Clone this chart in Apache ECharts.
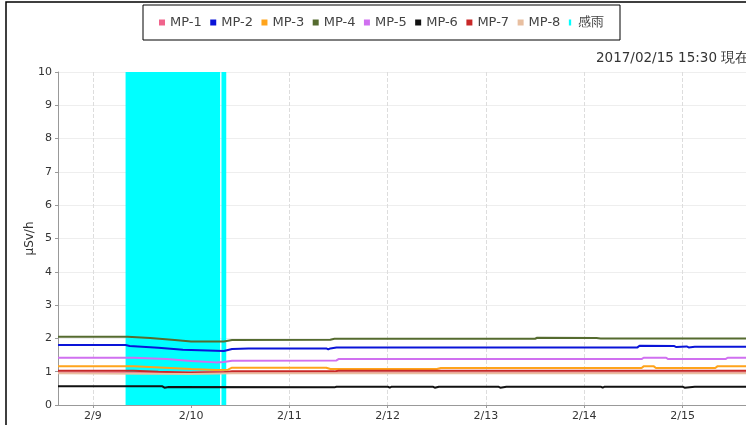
<!DOCTYPE html>
<html>
<head>
<meta charset="utf-8">
<script src="https://cdn.jsdelivr.net/npm/echarts@6/dist/echarts.min.js"></script>
<style>
  html, body { margin: 0; padding: 0; background: #fff; }
  #main { width: 746px; height: 425px; }
</style>
</head>
<body>
<div id="main"></div>
<script>
// 線量データ (μSv/h)
var names = ['MP-1', 'MP-2', 'MP-3', 'MP-4', 'MP-5', 'MP-6', 'MP-7', 'MP-8'];
var colors = ['#f0648c', '#0a14d8', '#ffa41c', '#556b2f', '#d070f0', '#111111', '#c82828', '#e8bfa0'];
var rainColor = '#00ffff';

var mp1 = [['2017-02-08 15:30', 0.97], ['2017-02-09 12:00', 0.97], ['2017-02-10 00:00', 0.98], ['2017-02-10 08:00', 0.99], ['2017-02-10 10:00', 0.96], ['2017-02-15 15:30', 0.97]];
var mp2 = [['2017-02-08 15:30', 1.80], ['2017-02-09 08:00', 1.80], ['2017-02-09 09:00', 1.77], ['2017-02-09 16:00', 1.72], ['2017-02-09 22:00', 1.66], ['2017-02-10 06:00', 1.63], ['2017-02-10 08:00', 1.62], ['2017-02-10 10:00', 1.68], ['2017-02-10 14:00', 1.70], ['2017-02-11 09:00', 1.70], ['2017-02-11 09:30', 1.67], ['2017-02-11 10:00', 1.70], ['2017-02-11 11:30', 1.73], ['2017-02-13 17:00', 1.73], ['2017-02-13 17:20', 1.76], ['2017-02-13 17:40', 1.73], ['2017-02-14 13:00', 1.73], ['2017-02-14 13:30', 1.78], ['2017-02-14 22:00', 1.77], ['2017-02-14 22:30', 1.74], ['2017-02-15 01:00', 1.76], ['2017-02-15 01:30', 1.73], ['2017-02-15 03:00', 1.75], ['2017-02-15 15:30', 1.75]];
var mp3 = [['2017-02-08 15:30', 1.16], ['2017-02-09 10:00', 1.16], ['2017-02-10 00:00', 1.08], ['2017-02-10 06:00', 1.05], ['2017-02-10 09:00', 1.06], ['2017-02-10 10:00', 1.12], ['2017-02-11 09:00', 1.12], ['2017-02-11 10:00', 1.08], ['2017-02-12 12:00', 1.08], ['2017-02-12 13:00', 1.11], ['2017-02-14 14:00', 1.11], ['2017-02-14 14:30', 1.16], ['2017-02-14 17:00', 1.16], ['2017-02-14 17:30', 1.11], ['2017-02-15 08:00', 1.11], ['2017-02-15 08:30', 1.16], ['2017-02-15 15:30', 1.16]];
var mp4 = [['2017-02-08 15:30', 2.05], ['2017-02-09 08:30', 2.05], ['2017-02-09 14:00', 2.01], ['2017-02-09 20:00', 1.95], ['2017-02-10 00:00', 1.91], ['2017-02-10 08:00', 1.91], ['2017-02-10 10:00', 1.95], ['2017-02-11 10:00', 1.96], ['2017-02-11 11:00', 1.99], ['2017-02-13 12:00', 1.99], ['2017-02-13 12:30', 2.02], ['2017-02-14 03:00', 2.01], ['2017-02-14 04:00', 2.00], ['2017-02-15 15:30', 2.00]];
var mp5 = [['2017-02-08 15:30', 1.42], ['2017-02-09 10:00', 1.42], ['2017-02-09 18:00', 1.38], ['2017-02-10 00:00', 1.32], ['2017-02-10 06:00', 1.28], ['2017-02-10 08:00', 1.29], ['2017-02-10 10:00', 1.33], ['2017-02-11 11:30', 1.34], ['2017-02-11 12:00', 1.38], ['2017-02-14 14:00', 1.38], ['2017-02-14 14:30', 1.42], ['2017-02-14 20:00', 1.42], ['2017-02-14 20:30', 1.38], ['2017-02-15 10:30', 1.38], ['2017-02-15 11:00', 1.42], ['2017-02-15 15:30', 1.42]];
var mp6 = [['2017-02-08 15:30', 0.56], ['2017-02-09 17:00', 0.56], ['2017-02-09 17:30', 0.52], ['2017-02-09 18:30', 0.54], ['2017-02-11 11:00', 0.53], ['2017-02-11 11:30', 0.55], ['2017-02-12 00:00', 0.55], ['2017-02-12 00:30', 0.52], ['2017-02-12 01:00', 0.55], ['2017-02-12 11:00', 0.55], ['2017-02-12 11:30', 0.52], ['2017-02-12 12:30', 0.55], ['2017-02-13 03:00', 0.55], ['2017-02-13 03:30', 0.52], ['2017-02-13 05:00', 0.55], ['2017-02-14 04:00', 0.55], ['2017-02-14 04:30', 0.52], ['2017-02-14 05:00', 0.55], ['2017-02-15 00:00', 0.55], ['2017-02-15 00:30', 0.52], ['2017-02-15 03:00', 0.55], ['2017-02-15 15:30', 0.55]];
var mp7 = [['2017-02-08 15:30', 1.03], ['2017-02-09 10:00', 1.03], ['2017-02-09 16:00', 1.00], ['2017-02-10 00:00', 0.97], ['2017-02-10 08:00', 0.98], ['2017-02-10 10:00', 1.01], ['2017-02-11 11:00', 1.01], ['2017-02-11 12:00', 1.03], ['2017-02-15 15:30', 1.03]];
var mp8 = [['2017-02-08 15:30', 0.95], ['2017-02-10 00:00', 0.93], ['2017-02-10 10:00', 0.95], ['2017-02-15 15:30', 0.95]];
var seriesData = [mp1, mp2, mp3, mp4, mp5, mp6, mp7, mp8];

// 感雨 期間
var rainPeriods = [['2017-02-09 08:00', '2017-02-10 07:05'], ['2017-02-10 07:25', '2017-02-10 08:35']];

var xMin = '2017-02-08 15:30';
var xMax = '2017-02-15 15:30';
var nowText = '2017/02/15 15:30 現在';

var chart = echarts.init(document.getElementById('main'));

var series = names.map(function (n, i) {
  return {
    name: n,
    type: 'line',
    data: seriesData[i],
    showSymbol: false,
    lineStyle: { width: 2, color: colors[i] },
    itemStyle: { color: colors[i] },
    z: 3
  };
});
series.push({
  name: '感雨',
  type: 'line',
  data: [],
  itemStyle: { color: rainColor },
  z: 1,
  markArea: {
    silent: true,
    itemStyle: { color: rainColor, opacity: 1 },
    data: rainPeriods.map(function (p) {
      return [{ xAxis: p[0] }, { xAxis: p[1] }];
    })
  }
});

var option = {
  animation: false,
  backgroundColor: '#fff',
  textStyle: { fontFamily: 'DejaVu Sans' },
  legend: {
    left: 143,
    top: 5,
    padding: [11, 16, 11, 16],
    itemGap: 8.5,
    itemWidth: 6,
    itemHeight: 6,
    borderColor: '#000',
    borderWidth: 1,
    textStyle: { fontSize: 13, color: '#444', fontFamily: 'DejaVu Sans' },
    data: names.map(function (n) { return { name: n, icon: 'rect' }; })
      .concat([{ name: '感雨', icon: 'path://M0,0H5V13H0Z' }])
  },
  graphic: [{
    type: 'rect',
    silent: true,
    shape: { x: 6, y: 2, width: 800, height: 500 },
    style: { fill: 'none', stroke: '#000', lineWidth: 1.5 }
  }, {
    type: 'text',
    left: 596,
    top: 51,
    style: { text: nowText, fontSize: 13.5, fill: '#333', fontFamily: 'DejaVu Sans' }
  }],
  grid: { left: 58, right: -1, top: 72, bottom: 20 },
  xAxis: {
    type: 'time',
    min: xMin,
    max: xMax,
    minInterval: 86400000,
    maxInterval: 86400000,
    axisLine: { lineStyle: { color: '#999' } },
    axisTick: { show: true, length: 3, lineStyle: { color: '#999' } },
    axisLabel: {
      fontSize: 11, color: '#333', margin: 6,
      showMinLabel: false, showMaxLabel: false,
      formatter: function (v) {
        var d = new Date(v);
        return (d.getMonth() + 1) + '/' + d.getDate();
      }
    },
    splitLine: { show: true, lineStyle: { color: '#ddd', type: 'dashed' } }
  },
  yAxis: {
    type: 'value',
    min: 0,
    max: 10,
    interval: 1,
    name: 'μSv/h',
    nameLocation: 'middle',
    nameGap: 22,
    nameMoveOverlap: false,
    nameTextStyle: { fontSize: 12, color: '#333' },
    axisLine: { show: true, lineStyle: { color: '#999' } },
    axisTick: { show: true, length: 3, lineStyle: { color: '#999' } },
    axisLabel: { fontSize: 11, color: '#333', margin: 6 },
    splitLine: { lineStyle: { color: '#eee' } }
  },
  series: series
};

chart.setOption(option);
</script>
</body>
</html>
